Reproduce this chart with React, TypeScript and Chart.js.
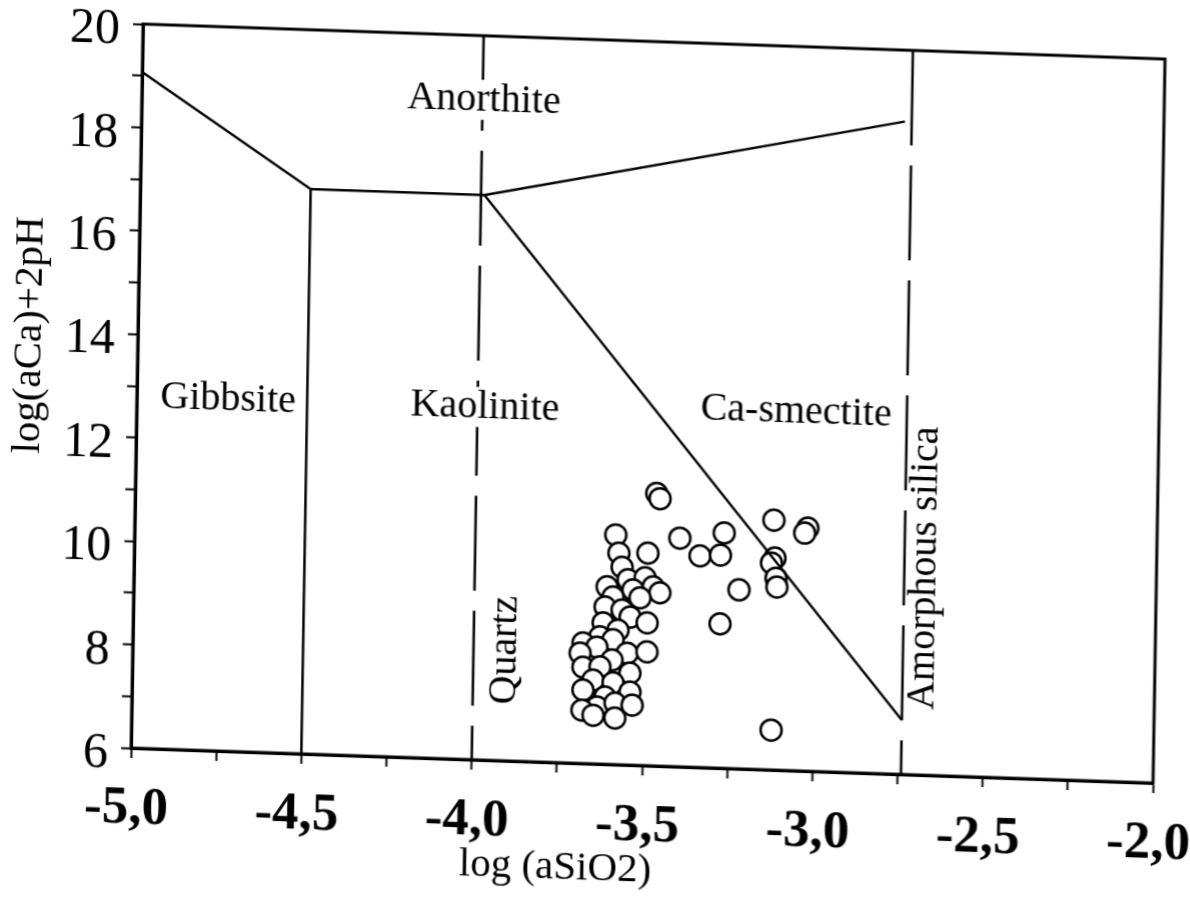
import React, { useEffect, useRef } from 'react';
import { Chart, registerables } from 'chart.js';

Chart.register(...registerables);

// ---- axes ----
const X_MIN = -5;
const X_MAX = -2;
const Y_MIN = 6;
const Y_MAX = 20;
const X_TICK_VALUES = [-5, -4.5, -4, -3.5, -3, -2.5, -2];
const X_TICK_LABELS = ['-5,0', '-4,5', '-4,0', '-3,5', '-3,0', '-2,5', '-2,0'];
const Y_TICK_VALUES = [6, 8, 10, 12, 14, 16, 18, 20];
const Y_TICK_LABELS = ['6', '8', '10', '12', '14', '16', '18', '20'];
const X_TITLE = 'log (aSiO2)';
const Y_TITLE = 'log(aCa)+2pH';

// ---- samples: log(aSiO2), log(aCa)+2pH ----
const SAMPLE_SIO2 = [
  -3.588, -3.578, -3.493, -3.568, -3.55, -3.5, -3.611, -3.476, -3.535, -3.456,
  -3.593, -3.514, -3.616, -3.566, -3.542, -3.621, -3.492, -3.577, -3.63, -3.591,
  -3.679, -3.638, -3.687, -3.549, -3.491, -3.593, -3.678, -3.628, -3.54, -3.648,
  -3.589, -3.677, -3.539, -3.612, -3.635, -3.582, -3.532, -3.679, -3.646, -3.582,
  -3.47, -3.46, -3.4, -3.34, -3.27, -3.28, -3.125, -3.025, -3.034, -3.12,
  -3.13, -3.116, -3.113, -3.224, -3.278, -3.123,
];
const SAMPLE_CA = [
  10.44, 10.09, 10.11, 9.82, 9.58, 9.63, 9.43, 9.46, 9.39, 9.35,
  9.24, 9.24, 9.04, 8.99, 8.86, 8.73, 8.76, 8.6, 8.46, 8.41,
  8.33, 8.26, 8.13, 8.16, 8.2, 8.02, 7.86, 7.88, 7.78, 7.62,
  7.58, 7.42, 7.41, 7.3, 7.1, 7.19, 7.16, 7.03, 6.94, 6.9,
  11.27, 11.17, 10.42, 10.09, 10.55, 10.12, 10.83, 10.7, 10.6, 10.1,
  10.0, 9.71, 9.54, 9.46, 8.79, 6.77,
];

// ---- stability-field boundaries ----
const GIBBSITE_ANORTHITE_X = [-5, -4.5];
const GIBBSITE_ANORTHITE_Y = [19.07, 16.92];
const GIBBSITE_KAOLINITE_X = [-4.5, -4.5];
const GIBBSITE_KAOLINITE_Y = [16.92, 6];
const KAOLINITE_ANORTHITE_X = [-4.5, -3.99];
const KAOLINITE_ANORTHITE_Y = [16.92, 16.92];
const SMECTITE_ANORTHITE_X = [-3.99, -2.76];
const SMECTITE_ANORTHITE_Y = [16.92, 18.62];
const SMECTITE_KAOLINITE_X = [-3.99, -2.74];
const SMECTITE_KAOLINITE_Y = [16.92, 7.05];
const QUARTZ_X = [-4.0, -4.0];
const QUARTZ_Y = [20, 6];
const AMORPHOUS_X = [-2.74, -2.74];
const AMORPHOUS_Y = [20, 6];

// ---- field labels ----
const FIELD_LABELS = ['Gibbsite', 'Kaolinite', 'Ca-smectite', 'Anorthite', 'Quartz', 'Amorphous silica'];
const FIELD_LABEL_X = [-4.732, -3.978, -3.065, -3.996, -3.908, -2.679];
const FIELD_LABEL_Y = [12.79, 12.82, 12.93, 18.76, 8.14, 10.0];
const FIELD_LABEL_ANGLE = [0, 0, 0, 0, -90, -90];
const FIELD_LABEL_MASK = [false, true, false, true, false, false];

// ---- layout (scan is slightly skewed) ----
const CANVAS_W = 1230;
const CANVAS_H = 897;
const PLOT_LEFT = 143;
const PLOT_TOP = 24;
const PLOT_RIGHT_PAD = 65;
const X_AXIS_H = 149;
const SKEW_B = 0.03425;
const SKEW_C = -0.01657;
const SERIF = '"Liberation Serif", "Times New Roman", serif';

const toPts = (xs: number[], ys: number[]) => xs.map((x, i) => ({ x, y: ys[i] }));

const lineDs = (xs: number[], ys: number[], dashed = false) => ({
  data: toPts(xs, ys),
  showLine: true,
  pointRadius: 0,
  borderColor: '#000',
  borderWidth: 2.5,
  borderDash: dashed ? [95, 20] : [],
  fill: false,
  tension: 0,
});

const annotate = {
  id: 'annotate',
  afterDatasetsDraw(chart: any) {
    const { ctx, chartArea: a, scales } = chart;
    const xs = scales.x;
    const ys = scales.y;
    ctx.save();
    ctx.strokeStyle = '#000';
    ctx.lineWidth = 3;
    ctx.strokeRect(a.left, a.top, a.right - a.left, a.bottom - a.top);

    ctx.textAlign = 'center';
    ctx.textBaseline = 'middle';
    ctx.font = `40px ${SERIF}`;
    FIELD_LABELS.forEach((t, i) => {
      const px = xs.getPixelForValue(FIELD_LABEL_X[i]);
      const py = ys.getPixelForValue(FIELD_LABEL_Y[i]);
      ctx.save();
      ctx.translate(px, py);
      ctx.rotate((FIELD_LABEL_ANGLE[i] * Math.PI) / 180);
      if (FIELD_LABEL_MASK[i]) {
        const w = ctx.measureText(t).width;
        ctx.fillStyle = '#fff';
        ctx.fillRect(-w / 2 - 6, -20, w + 12, 40);
      }
      ctx.fillStyle = '#000';
      ctx.fillText(t, 0, 0);
      ctx.restore();
    });

    ctx.font = `41px ${SERIF}`;
    ctx.fillStyle = '#000';
    ctx.fillText(X_TITLE, a.left + 0.4166 * (a.right - a.left), a.bottom + 105);
    ctx.save();
    ctx.translate(a.left - 108, a.top + 0.4347 * (a.bottom - a.top));
    ctx.rotate(-Math.PI / 2);
    ctx.fillText(Y_TITLE, 0, 0);
    ctx.restore();
    ctx.restore();
  },
};

export default function App() {
  const ref = useRef<HTMLCanvasElement | null>(null);

  useEffect(() => {
    if (!ref.current) return;
    const chart = new Chart(ref.current, {
      type: 'scatter',
      data: {
        datasets: [
          lineDs(GIBBSITE_ANORTHITE_X, GIBBSITE_ANORTHITE_Y),
          lineDs(GIBBSITE_KAOLINITE_X, GIBBSITE_KAOLINITE_Y),
          lineDs(KAOLINITE_ANORTHITE_X, KAOLINITE_ANORTHITE_Y),
          lineDs(SMECTITE_ANORTHITE_X, SMECTITE_ANORTHITE_Y),
          lineDs(SMECTITE_KAOLINITE_X, SMECTITE_KAOLINITE_Y),
          lineDs(QUARTZ_X, QUARTZ_Y, true),
          lineDs(AMORPHOUS_X, AMORPHOUS_Y, true),
          {
            data: toPts(SAMPLE_SIO2, SAMPLE_CA),
            showLine: false,
            pointRadius: 10.5,
            pointBorderWidth: 2.5,
            pointBackgroundColor: '#fff',
            pointBorderColor: '#000',
          } as any,
        ],
      },
      options: {
        animation: false,
        responsive: false,
        events: [],
        layout: { padding: { left: 0, top: PLOT_TOP, right: PLOT_RIGHT_PAD, bottom: 0 } },
        plugins: { legend: { display: false }, tooltip: { enabled: false } },
        scales: {
          x: {
            type: 'linear',
            min: X_MIN,
            max: X_MAX,
            border: { display: true, color: '#000', width: 3 },
            grid: { drawOnChartArea: false, drawTicks: true, tickLength: 10, tickColor: '#000', tickWidth: 2 },
            ticks: {
              stepSize: 0.25,
              autoSkip: false,
              maxRotation: 0,
              minRotation: 0,
              padding: 20,
              labelOffset: -4,
              color: '#000',
              font: { family: SERIF, size: 53, weight: 'bold' },
              callback: (v: any) => {
                const i = X_TICK_VALUES.findIndex((t) => Math.abs(t - Number(v)) < 1e-6);
                return i >= 0 ? X_TICK_LABELS[i] : '';
              },
            },
            afterFit: (s: any) => {
              s.height = X_AXIS_H;
              s.paddingLeft = 0;
              s.paddingRight = 0;
            },
          },
          y: {
            type: 'linear',
            min: Y_MIN,
            max: Y_MAX,
            border: { display: true, color: '#000', width: 3 },
            grid: { drawOnChartArea: false, drawTicks: true, tickLength: 10, tickColor: '#000', tickWidth: 2 },
            ticks: {
              stepSize: 1,
              autoSkip: false,
              padding: 13,
              labelOffset: 7,
              color: '#000',
              font: { family: SERIF, size: 50 },
              callback: (v: any) => {
                const i = Y_TICK_VALUES.findIndex((t) => Math.abs(t - Number(v)) < 1e-6);
                return i >= 0 ? Y_TICK_LABELS[i] : '';
              },
            },
            afterFit: (s: any) => {
              s.width = PLOT_LEFT;
              s.paddingTop = 0;
              s.paddingBottom = 0;
            },
          },
        },
      } as any,
      plugins: [annotate],
    });
    return () => chart.destroy();
  }, []);

  return (
    <div
      style={{
        position: 'fixed',
        left: 0,
        top: 0,
        width: 1190,
        height: 897,
        overflow: 'hidden',
        background: '#fff',
      }}
    >
      <canvas
        ref={ref}
        width={CANVAS_W}
        height={CANVAS_H}
        style={{
          position: 'absolute',
          left: 0,
          top: 0,
          width: CANVAS_W,
          height: CANVAS_H,
          transformOrigin: `${PLOT_LEFT}px ${PLOT_TOP}px`,
          transform: `matrix(1, ${SKEW_B}, ${SKEW_C}, 1, 0, 0)`,
        }}
      />
    </div>
  );
}
